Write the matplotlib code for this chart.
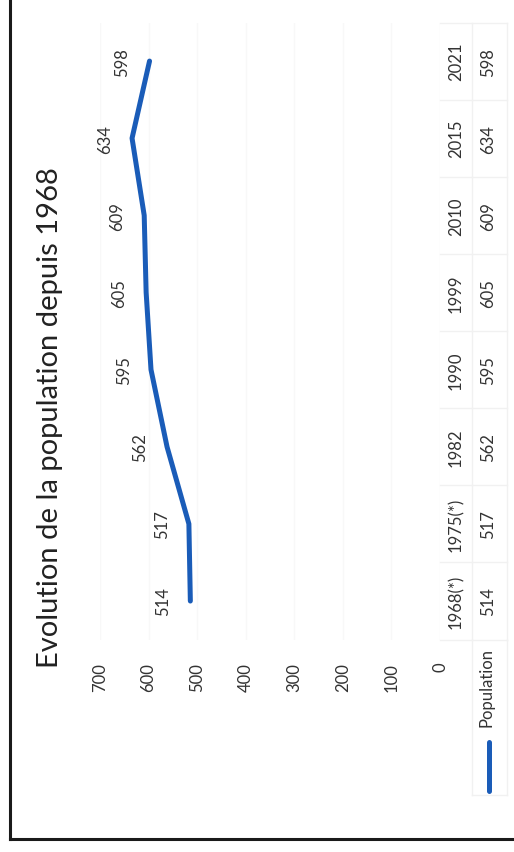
import matplotlib
matplotlib.use('Agg')
import matplotlib.pyplot as plt
from matplotlib.lines import Line2D
import matplotlib.transforms as mtransforms

categories = ['1968(*)', '1975(*)', '1982', '1990', '1999', '2010', '2015', '2021']
population = [514, 517, 562, 595, 605, 609, 634, 598]
value_ticks = [0, 100, 200, 300, 400, 500, 600, 700]
title = 'Evolution de la population depuis 1968'
series_name = 'Population'

plt.rcParams['font.family'] = ['Lato', 'DejaVu Sans']

W, H = 514, 853
LINE_COLOR = '#1a5cb8'
TXT = '#333333'
FS = 12

fig = plt.figure(figsize=(W / 100, H / 100), dpi=100)
fig.patch.set_facecolor('white')

# plot area (chart is rotated 90 degrees counter-clockwise on the page)
ax = fig.add_axes([100 / W, 1 - 640.6 / H, 340 / W, 617.1 / H])
pos = list(range(len(categories)))
ax.plot(population, pos, color=LINE_COLOR, lw=3.6,
        solid_capstyle='round', solid_joinstyle='round', zorder=3)
ax.set_xlim(700, 0)
ax.set_ylim(-0.5, len(categories) - 0.5)
ax.set_xticks(value_ticks)
ax.set_xticklabels([str(v) for v in value_ticks], rotation=90, va='top', ha='center')
ax.tick_params(axis='x', length=0, pad=16, labelsize=FS, labelcolor=TXT)
ax.set_yticks([])
for s in ax.spines.values():
    s.set_visible(False)
ax.grid(axis='x', color='#f8f8f8', lw=1)
ax.set_axisbelow(True)

# data labels
for p, v in zip(pos, population):
    ax.annotate(str(v), (v, p), xytext=(-27, 0), textcoords='offset pixels',
                rotation=90, ha='center', va='center', fontsize=FS, color=TXT)

# data table below the plot (to the right on the rotated page)
bt = mtransforms.blended_transform_factory(ax.transAxes, ax.transData)
x_hdr = (456 - 100) / 340
x_val = (488 - 100) / 340
x0 = 1.0
x_mid = (472 - 100) / 340
x1 = (507 - 100) / 340
for p, c, v in zip(pos, categories, population):
    ax.text(x_hdr, p, c, transform=bt, rotation=90, ha='center', va='center',
            fontsize=FS, color=TXT, clip_on=False)
    ax.text(x_val, p, str(v), transform=bt, rotation=90, ha='center', va='center',
            fontsize=FS, color=TXT, clip_on=False)
grid_c = '#f1f1f1'
for b in [p - 0.5 for p in pos] + [pos[-1] + 0.5]:
    ax.plot([x0, x1], [b, b], transform=bt, color=grid_c, lw=1, clip_on=False)
ax.plot([x_mid, x_mid], [-0.5, pos[-1] + 0.5], transform=bt, color=grid_c, lw=1, clip_on=False)
ax.plot([x1, x1], [-0.5, pos[-1] + 0.5], transform=bt, color=grid_c, lw=1, clip_on=False)

# legend cell
y_leg_bot = (640.6 - 796) / 617.1
ax.plot([x_mid, x1], [y_leg_bot, y_leg_bot], transform=ax.transAxes, color=grid_c, lw=1, clip_on=False)
ax.plot([x_mid, x_mid], [0, y_leg_bot], transform=ax.transAxes, color=grid_c, lw=1, clip_on=False)
ax.plot([x1, x1], [0, y_leg_bot], transform=ax.transAxes, color=grid_c, lw=1, clip_on=False)
x_leg = (489 - 100) / 340
ax.plot([x_leg, x_leg], [(640.6 - 743) / 617.1, (640.6 - 792) / 617.1], transform=ax.transAxes,
        color=LINE_COLOR, lw=3.6, solid_capstyle='round', clip_on=False)
ax.text((486 - 100) / 340, (640.6 - 648) / 617.1, series_name, transform=ax.transAxes,
        rotation=90, ha='center', va='top', fontsize=FS, color=TXT, clip_on=False)

# title
fig.text(50 / W, 1 - 417.5 / H, title, rotation=90, ha='center', va='center',
         fontsize=21, color='#222222')

# page frame
fig.add_artist(Line2D([10 / W, 10 / W], [1, 1 - 840 / H], transform=fig.transFigure,
                      color='#1a1a1a', lw=2.2))
fig.add_artist(Line2D([10 / W, 1], [1 - 840 / H, 1 - 840 / H], transform=fig.transFigure,
                      color='#1a1a1a', lw=2.2))

fig.savefig('out.png', dpi=100, facecolor='white')
